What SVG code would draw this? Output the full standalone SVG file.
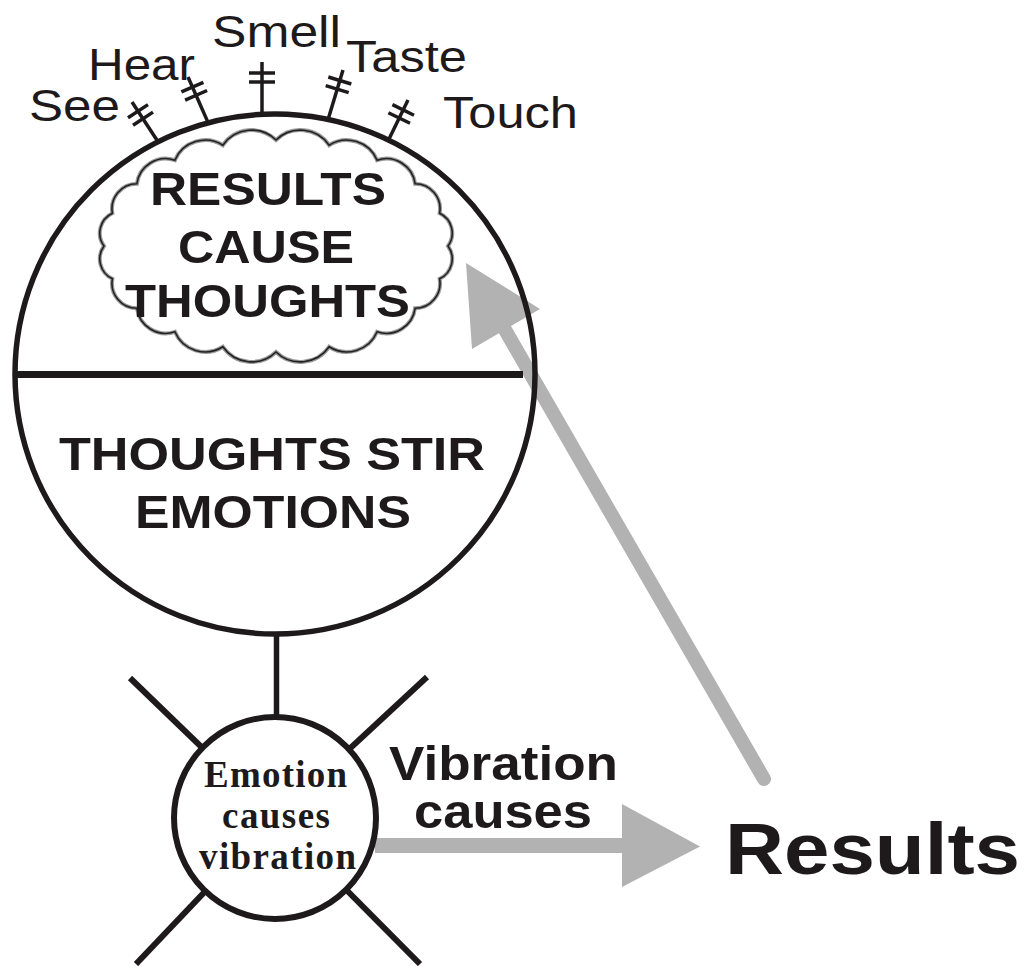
<svg xmlns="http://www.w3.org/2000/svg" width="1026" height="966" viewBox="0 0 1026 966">
<style>
.ink{stroke:#1e1a1b;fill:none;stroke-linecap:butt}
.sans{font-family:"Liberation Sans",Arial,sans-serif;fill:#1e1a1b}
.b{font-weight:bold}
.serif{font-family:"Liberation Serif","Times New Roman",serif;font-weight:bold;fill:#1e1a1b}
.gray{fill:#b2b2b2}
</style>
<defs>
  <path id="cloudShape" d="M448,246 A22,22 0 0 1 439.6,278.8 A25,25 0 0 1 415.1,308.3 A29,29 0 0 1 377.1,331.8 A33,33 0 0 1 329.1,346.8 A35,35 0 0 1 276,352 A35,35 0 0 1 222.9,346.8 A33,33 0 0 1 174.9,331.8 A29,29 0 0 1 136.9,308.3 A25,25 0 0 1 112.4,278.8 A22,22 0 0 1 104,246 A22,22 0 0 1 112.4,213.2 A25,25 0 0 1 136.9,183.7 A29,29 0 0 1 174.9,160.2 A33,33 0 0 1 222.9,145.2 A35,35 0 0 1 276,140 A35,35 0 0 1 329.1,145.2 A33,33 0 0 1 377.1,160.2 A29,29 0 0 1 415.1,183.7 A25,25 0 0 1 439.6,213.2 A22,22 0 0 1 448,246 Z"/>
</defs>
<rect width="1026" height="966" fill="#fff"/>
<g id="connectors">
  <line class="ink" x1="276.5" y1="636" x2="276.5" y2="716" stroke-width="5.5"/>
  <line x1="375" y1="845.5" x2="626" y2="845.5" stroke="#b2b2b2" stroke-width="15"/>
  <polygon class="gray" points="622,804 700,846.5 622,887"/>
  <line x1="764" y1="779" x2="504" y2="328" stroke="#b2b2b2" stroke-width="14" stroke-linecap="round"/>
  <polygon class="gray" points="466,263 540,309 472,349"/>
</g>
<g id="mind">
  <line class="ink" x1="14" y1="374.5" x2="523" y2="374.5" stroke-width="7"/>
  <circle class="ink" cx="275" cy="374" r="260" stroke-width="5.5"/>
  <text class="sans b" x="59" y="470" font-size="47" textLength="426" lengthAdjust="spacingAndGlyphs">THOUGHTS STIR</text>
  <text class="sans b" x="135" y="528" font-size="47" textLength="276" lengthAdjust="spacingAndGlyphs">EMOTIONS</text>
</g>
<g id="cloud">
  <use href="#cloudShape" fill="#fff" stroke="#9a9a9a" stroke-width="4"/>
  <use href="#cloudShape" fill="none" stroke="#222" stroke-width="1.6"/>
  <text class="sans b" x="150" y="205" font-size="46" textLength="236" lengthAdjust="spacingAndGlyphs">RESULTS</text>
  <text class="sans b" x="178" y="263" font-size="46" textLength="176" lengthAdjust="spacingAndGlyphs">CAUSE</text>
  <text class="sans b" x="125" y="317" font-size="46" textLength="285" lengthAdjust="spacingAndGlyphs">THOUGHTS</text>
</g>
<g id="senses" class="ink" stroke-width="3.5">
  <g id="see">
    <line x1="157.7" y1="141.2" x2="132" y2="102"/>
    <line x1="128" y1="117.8" x2="148" y2="104.6"/>
    <line x1="133" y1="125.3" x2="153" y2="112.1"/>
  </g>
  <g id="hear">
    <line x1="209" y1="124.6" x2="188" y2="77"/>
    <line x1="181.4" y1="91.9" x2="203.4" y2="82.3"/>
    <line x1="185.1" y1="100.1" x2="207.1" y2="90.5"/>
  </g>
  <g id="smell">
    <line x1="262" y1="116" x2="262" y2="62"/>
    <line x1="249" y1="73" x2="275" y2="73"/>
    <line x1="249" y1="82" x2="275" y2="82"/>
  </g>
  <g id="taste">
    <line x1="328" y1="119.7" x2="343" y2="70"/>
    <line x1="328.3" y1="77" x2="351.3" y2="84"/>
    <line x1="325.7" y1="85.7" x2="348.7" y2="92.7"/>
  </g>
  <g id="touch">
    <line x1="387.8" y1="141.5" x2="408" y2="100"/>
    <line x1="392.4" y1="104.6" x2="414" y2="115.2"/>
    <line x1="388.4" y1="112.7" x2="410" y2="123.3"/>
  </g>
</g>
<g id="sense-labels" class="sans" font-size="44">
  <text x="29" y="121" textLength="91" lengthAdjust="spacingAndGlyphs">See</text>
  <text x="88" y="80" textLength="107" lengthAdjust="spacingAndGlyphs">Hear</text>
  <text x="212" y="47" textLength="129" lengthAdjust="spacingAndGlyphs">Smell</text>
  <text x="346" y="72" textLength="121" lengthAdjust="spacingAndGlyphs">Taste</text>
  <text x="443" y="128" textLength="135" lengthAdjust="spacingAndGlyphs">Touch</text>
</g>
<g id="emotion">
  <g class="ink" stroke-width="6">
    <line x1="130" y1="678" x2="275" y2="818"/>
    <line x1="427" y1="677" x2="275" y2="818"/>
    <line x1="136" y1="964" x2="275" y2="818"/>
    <line x1="420" y1="964" x2="275" y2="818"/>
  </g>
  <circle cx="275" cy="818" r="101" fill="#fff" stroke="#1e1a1b" stroke-width="6"/>
  <text class="serif" x="204" y="787" font-size="37" textLength="143" lengthAdjust="spacing">Emotion</text>
  <text class="serif" x="222" y="828" font-size="37" textLength="108" lengthAdjust="spacing">causes</text>
  <text class="serif" x="199" y="869" font-size="37" textLength="157" lengthAdjust="spacing">vibration</text>
</g>
<g id="vibration-label" class="sans b" font-size="48">
  <text x="389" y="780" textLength="229" lengthAdjust="spacingAndGlyphs">Vibration</text>
  <text x="414" y="828" textLength="178" lengthAdjust="spacingAndGlyphs">causes</text>
</g>
<g id="results">
  <text class="sans b" x="725" y="874" font-size="73" textLength="295" lengthAdjust="spacingAndGlyphs">Results</text>
</g>
</svg>
